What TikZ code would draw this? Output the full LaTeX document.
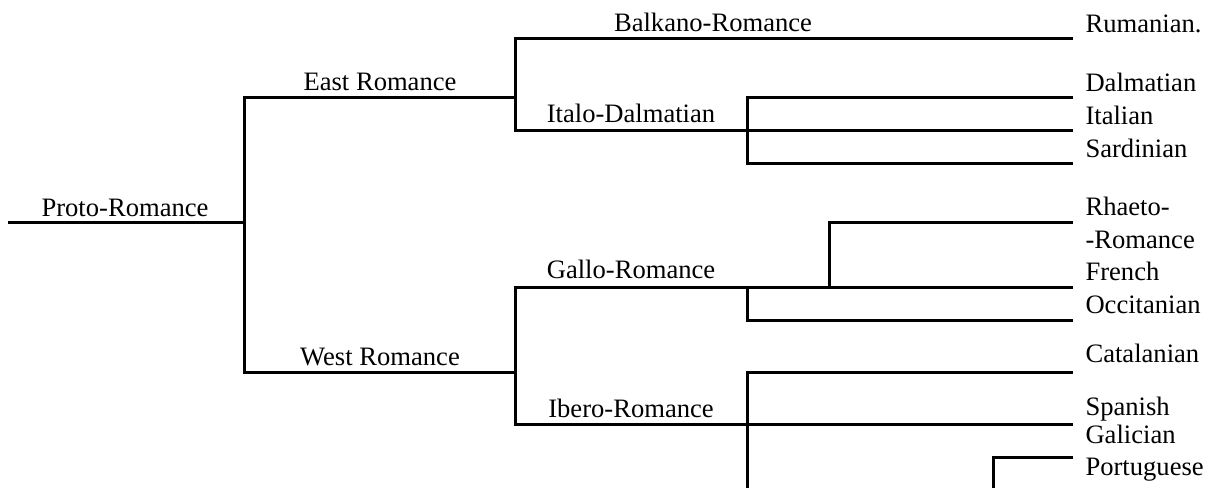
\documentclass[tikz,border=0pt]{standalone}
\usepackage{fontspec}
\setmainfont{Liberation Serif}
\begin{document}
\begin{tikzpicture}[x=0.5pt,y=-0.5pt,line width=1.5pt,
    every node/.style={font=\fontsize{13.3}{16}\selectfont,inner sep=0pt},
    group/.style={anchor=base},
    lang/.style={anchor=base west}]
      \useasboundingbox (0,0) rectangle (1209,488);
      % branch points and line ends
      \coordinate (root) at (8,222);
      \coordinate (pr) at (244,222);
      \coordinate (er) at (515,97);
      \coordinate (wr) at (515,372);
      \coordinate (id) at (747,130);
      \coordinate (gr) at (747,287);
      \coordinate (rh) at (829,287);
      \coordinate (ir) at (747,424);
      \coordinate (irb) at (747,488);
      \coordinate (gp) at (993,488);
      \coordinate (rum) at (1073,38);
      \coordinate (dal) at (1073,97);
      \coordinate (ita) at (1073,130);
      \coordinate (sar) at (1073,163);
      \coordinate (rha) at (1073,222);
      \coordinate (fre) at (1073,287);
      \coordinate (occ) at (1073,320);
      \coordinate (cat) at (1073,372);
      \coordinate (spa) at (1073,424);
      \coordinate (gal) at (1073,457);
      \draw
        (125,216) node[group] (proto){Proto-Romance}
        (380,90) node[group] (east){East Romance}
        (380,365) node[group] (west){West Romance}
        (713,31) node[group] (balkano){Balkano-Romance}
        (631,122) node[group] (italo){Italo-Dalmatian}
        (631,278) node[group] (gallo){Gallo-Romance}
        (631,417) node[group] (ibero){Ibero-Romance}
        (1084,32) node[lang] (rumanian){Rumanian.}
        (1084,91) node[lang] (dalmatian){Dalmatian}
        (1084,124) node[lang] (italian){Italian}
        (1084,157) node[lang] (sardinian){Sardinian}
        (1084,215) node[lang] (rhaeto){Rhaeto-}
        (1084,248) node[lang] (rhaeto2){-Romance}
        (1084,280) node[lang] (french){French}
        (1084,313) node[lang] (occitanian){Occitanian}
        (1084,362) node[lang] (catalanian){Catalanian}
        (1084,415) node[lang] (spanish){Spanish}
        (1084,443) node[lang] (galician){Galician}
        (1084,475) node[lang] (portuguese){Portuguese};
      \begin{scope}[-]
        \draw (root) to (pr);
        \draw (pr) |- (er);
        \draw (pr) |- (wr);
        \draw (er) |- (rum);
        \draw (er) |- (id);
        \draw (id) to (ita);
        \draw (id) |- (dal);
        \draw (id) |- (sar);
        \draw (wr) |- (gr);
        \draw (gr) to (fre);
        \draw (gr) |- (occ);
        \draw (rh) |- (rha);
        \draw (wr) |- (ir);
        \draw (ir) to (spa);
        \draw (ir) |- (cat);
        \draw (ir) to (irb);
        \draw (gp) |- (gal);
      \end{scope}
    \end{tikzpicture}
\end{document}
